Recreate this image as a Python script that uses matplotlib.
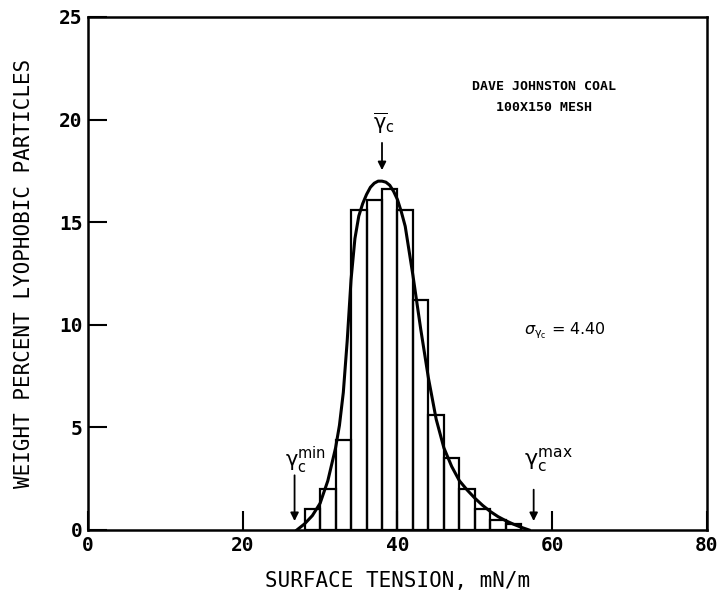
import matplotlib
matplotlib.use("Agg")
import matplotlib.pyplot as plt

# histogram: bin left edges (mN/m) and weight percent
bin_edges = [28, 30, 32, 34, 36, 38, 40, 42, 44, 46, 48, 50, 52, 54]
bin_heights = [1.0, 2.0, 4.4, 15.6, 16.1, 16.6, 15.6, 11.2, 5.6, 3.5, 2.0, 1.0, 0.5, 0.3]
bin_width = 2

# fitted distribution curve
curve_x = [27, 28, 29, 30, 31, 32, 32.5, 33, 33.5, 34, 34.5, 35, 35.5, 36, 36.5, 37, 37.5,
           38, 38.5, 39, 39.5, 40, 40.5, 41, 42, 43, 44, 45, 46, 47, 48, 49, 50, 51, 52,
           53, 54, 55, 56, 57]
curve_y = [0.0, 0.3, 0.7, 1.3, 2.4, 4.0, 5.1, 6.7, 9.2, 12.2, 14.2, 15.3, 15.9, 16.35,
           16.7, 16.9, 17.0, 17.0, 16.95, 16.8, 16.5, 16.1, 15.5, 14.8, 12.4, 9.8, 7.4,
           5.4, 4.0, 3.1, 2.4, 1.95, 1.55, 1.2, 0.9, 0.65, 0.45, 0.28, 0.13, 0.0]

x_ticks = [0, 20, 40, 60, 80]
y_ticks = [0, 5, 10, 15, 20, 25]

mono = "DejaVu Sans Mono"

fig = plt.figure(figsize=(7.24, 6), dpi=100)
ax = fig.add_axes([0.1215, 0.1167, 0.855, 0.855])

ax.bar(bin_edges, bin_heights, width=bin_width, align="edge", fill=False,
       edgecolor="black", linewidth=1.6)
ax.plot(curve_x, curve_y, color="black", linewidth=2.2)

ax.set_xlim(0, 80)
ax.set_ylim(0, 25)
ax.set_xticks(x_ticks)
ax.set_yticks(y_ticks)
ax.tick_params(direction="in", length=14, width=1.5, labelsize=14, pad=4)
for lab in ax.get_xticklabels() + ax.get_yticklabels():
    lab.set_family(mono)
    lab.set_weight("bold")
for s in ax.spines.values():
    s.set_linewidth(1.8)

ax.set_xlabel("SURFACE TENSION, mN/m", family=mono, fontsize=15, labelpad=12)
ax.set_ylabel("WEIGHT PERCENT LYOPHOBIC PARTICLES", family=mono, fontsize=15, labelpad=18)

# annotations
ax.text(59, 21.6, "DAVE JOHNSTON COAL", family=mono, fontsize=9.5, weight="bold",
        ha="center", va="center")
ax.text(59, 20.6, "100X150 MESH", family=mono, fontsize=9.5, weight="bold",
        ha="center", va="center")
ax.text(56.3, 9.7, r"$\sigma_{\mathrm{\gamma_c}}$ = 4.40", fontsize=11.5, ha="left", va="center")

ax.text(38.2, 19.8, r"$\overline{\mathrm{\gamma}}_\mathrm{c}$", fontsize=15, ha="center", va="center")
ax.annotate("", xy=(38, 17.4), xytext=(38, 19.0),
            arrowprops=dict(arrowstyle="-|>", color="black", lw=1.3, mutation_scale=12))

ax.text(25.4, 3.4, r"$\mathrm{\gamma_c^{min}}$", fontsize=15, ha="left", va="center")
ax.annotate("", xy=(26.7, 0.3), xytext=(26.7, 2.8),
            arrowprops=dict(arrowstyle="-|>", color="black", lw=1.3, mutation_scale=12))

ax.text(56.4, 3.4, r"$\mathrm{\gamma_c^{max}}$", fontsize=16, ha="left", va="center")
ax.annotate("", xy=(57.6, 0.3), xytext=(57.6, 2.1),
            arrowprops=dict(arrowstyle="-|>", color="black", lw=1.3, mutation_scale=12))

fig.savefig("out.png", dpi=100)
